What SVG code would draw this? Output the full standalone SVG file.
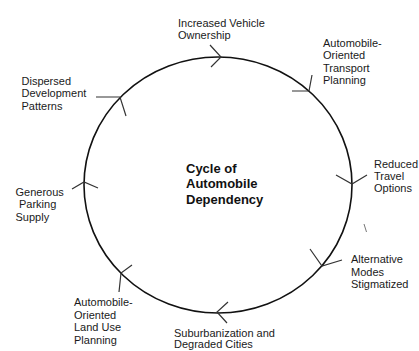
<svg xmlns="http://www.w3.org/2000/svg" width="419" height="351" viewBox="0 0 419 351">
  <style>
    .lbl { font-family: "Liberation Sans", Arial, sans-serif; font-size: 11px; fill: #1a1a1a; }
    .title { font-family: "Liberation Sans", Arial, sans-serif; font-size: 13px; font-weight: bold; fill: #111; }
    .ring { fill: none; stroke: #111; stroke-width: 1.6; }
    .chev { fill: none; stroke: #333; stroke-width: 1.2; stroke-linejoin: miter; }
  </style>
  <rect width="419" height="351" fill="#fff"/>

  <!-- the cycle ring and its direction chevrons -->
  <g id="connectors">
    <ellipse class="ring" cx="218" cy="185" rx="134" ry="128"/>
    <path class="chev" d="M210,45 L221,57 L211,67"/>
    <path class="chev" d="M292,91 L309,91 L312,75"/>
    <path class="chev" d="M96,97 L120,97 L126,116"/>
    <path class="chev" d="M72,189 L84,182 L98,188"/>
    <path class="chev" d="M336,175 L352,184 L367,175"/>
    <path class="chev" d="M310,249 L322,266 L342,260"/>
    <path class="chev" d="M228,302 L217,312 L227,323"/>
    <path class="chev" d="M132,265 L121,273 L119,292"/>
    <path d="M364,224 L366.5,232" stroke="#777" stroke-width="1" fill="none"/>
  </g>

  <g id="title">
    <text class="title" x="186" y="173">Cycle of</text>
    <text class="title" x="186" y="188">Automobile</text>
    <text class="title" x="186" y="203.5">Dependency</text>
  </g>

  <g id="vehicle-ownership">
    <text class="lbl" x="178" y="26.5">Increased Vehicle</text>
    <text class="lbl" x="178" y="38.5">Ownership</text>
  </g>

  <g id="transport-planning">
    <text class="lbl" x="323" y="46.5">Automobile-</text>
    <text class="lbl" x="323" y="59">Oriented</text>
    <text class="lbl" x="323" y="71.5">Transport</text>
    <text class="lbl" x="323" y="84">Planning</text>
  </g>

  <g id="travel-options">
    <text class="lbl" x="374" y="168">Reduced</text>
    <text class="lbl" x="374" y="180">Travel</text>
    <text class="lbl" x="374" y="192">Options</text>
  </g>

  <g id="modes-stigmatized">
    <text class="lbl" x="351" y="263">Alternative</text>
    <text class="lbl" x="351" y="275.5">Modes</text>
    <text class="lbl" x="351" y="288">Stigmatized</text>
  </g>

  <g id="suburbanization">
    <text class="lbl" x="174" y="337">Suburbanization and</text>
    <text class="lbl" x="174" y="348.3">Degraded Cities</text>
  </g>

  <g id="land-use-planning">
    <text class="lbl" x="74" y="306">Automobile-</text>
    <text class="lbl" x="74" y="318.5">Oriented</text>
    <text class="lbl" x="74" y="331">Land Use</text>
    <text class="lbl" x="74" y="343.5">Planning</text>
  </g>

  <g id="parking-supply">
    <text class="lbl" x="15.5" y="195.5">Generous</text>
    <text class="lbl" x="19" y="208">Parking</text>
    <text class="lbl" x="15.5" y="220.5">Supply</text>
  </g>

  <g id="dispersed-development">
    <text class="lbl" x="21.5" y="84.5">Dispersed</text>
    <text class="lbl" x="21.5" y="97">Development</text>
    <text class="lbl" x="21.5" y="109.5">Patterns</text>
  </g>
</svg>
